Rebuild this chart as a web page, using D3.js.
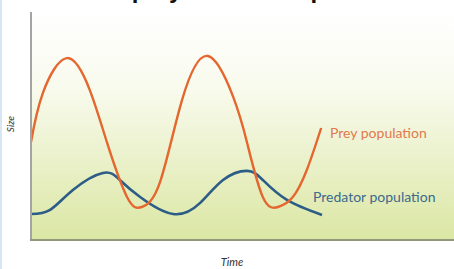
<!DOCTYPE html>
<html>
<head>
<meta charset="utf-8">
<script src="https://cdn.jsdelivr.net/npm/d3@7"></script>
<style>
  html, body { margin: 0; padding: 0; background: #fff; overflow: hidden; }
  svg { display: block; }
</style>
</head>
<body>
<div id="chart"></div>
<script>
// values: time (0-100) vs size (0-100)
const preyTime = [0, 2.8, 8.5, 13.9, 18.0, 22.7, 26.2, 30.5, 35.7, 41.8, 47.8, 51.1, 54.8, 58.4, 61.9, 65.2, 68.6];
const preySize = [42.7, 64.3, 79.7, 65.6, 42.3, 18.5, 14.1, 25.1, 61.2, 80.6, 62.6, 42.3, 18.5, 14.1, 18.5, 30.4, 48.9];

const predTime = [0, 4.5, 9.9, 17.0, 21.0, 25.8, 33.6, 40.0, 45.4, 51.1, 54.8, 60.5, 68.8];
const predSize = [11.0, 12.8, 21.6, 29.1, 26.0, 18.5, 11.0, 15.9, 26.0, 30.0, 26.0, 17.2, 10.6];

const seriesNames = ["Prey population", "Predator population"];
const axisNames = ["Time", "Size"];
const titleText = "Predator-prey relationship";

const width = 454, height = 269;
const margin = {top: 12, right: 0, bottom: 30, left: 31};

const svg = d3.select("#chart").append("svg")
    .attr("width", width)
    .attr("height", height);

const x = d3.scaleLinear().domain([0, 100]).range([margin.left, width - margin.right]);
const y = d3.scaleLinear().domain([0, 100]).range([height - margin.bottom, margin.top]);

// background gradient
const defs = svg.append("defs");
const grad = defs.append("linearGradient")
    .attr("id", "bg")
    .attr("x1", 0).attr("y1", 0).attr("x2", 0).attr("y2", 1);
grad.append("stop").attr("offset", "0%").attr("stop-color", "#ffffff");
grad.append("stop").attr("offset", "35%").attr("stop-color", "#f8faec");
grad.append("stop").attr("offset", "100%").attr("stop-color", "#dbe7a4");

svg.append("rect")
    .attr("x", x(0))
    .attr("y", y(100))
    .attr("width", x(100) - x(0))
    .attr("height", y(0) - y(100))
    .attr("fill", "url(#bg)");

// light blue strip on the left edge
svg.append("rect")
    .attr("x", 0).attr("y", 0)
    .attr("width", 2).attr("height", height)
    .attr("fill", "#d8e5f4");

// title, mostly cut off at the top (as in the source image)
svg.append("text")
    .attr("x", 25)
    .attr("y", -2)
    .attr("font-family", "Liberation Sans, Arial, sans-serif")
    .attr("font-weight", "bold")
    .attr("font-size", 24)
    .attr("fill", "#111")
    .text(titleText);

// curves
const line = d3.line()
    .x(d => x(d[0]))
    .y(d => y(d[1]))
    .curve(d3.curveNatural);

const prey = preyTime.map((t, i) => [t, preySize[i]]);
const pred = predTime.map((t, i) => [t, predSize[i]]);

svg.append("path")
    .datum(pred)
    .attr("d", line)
    .attr("fill", "none")
    .attr("stroke", "#2c5d87")
    .attr("stroke-width", 2.6);

svg.append("path")
    .datum(prey)
    .attr("d", line)
    .attr("fill", "none")
    .attr("stroke", "#e4672f")
    .attr("stroke-width", 2.4);

// axes
svg.append("line")
    .attr("x1", x(0)).attr("x2", x(0))
    .attr("y1", y(100)).attr("y2", y(0) + 1)
    .attr("stroke", "#a4a4a4")
    .attr("stroke-width", 2);

svg.append("line")
    .attr("x1", x(0) - 1).attr("x2", x(100))
    .attr("y1", y(0) + 1).attr("y2", y(0) + 1)
    .attr("stroke", "#8f9878")
    .attr("stroke-width", 2);

// series labels
svg.append("text")
    .attr("x", 330)
    .attr("y", 138)
    .attr("font-family", "Lato, sans-serif")
    .attr("font-size", 14)
    .attr("fill", "#e07a4c")
    .text(seriesNames[0]);

svg.append("text")
    .attr("x", 313)
    .attr("y", 202)
    .attr("font-family", "Lato, sans-serif")
    .attr("font-size", 14)
    .attr("fill", "#3a6a8e")
    .text(seriesNames[1]);

// axis titles
svg.append("text")
    .attr("x", 232)
    .attr("y", 266)
    .attr("text-anchor", "middle")
    .attr("font-family", "Lato, sans-serif")
    .attr("font-style", "italic")
    .attr("font-size", 11)
    .attr("fill", "#333")
    .text(axisNames[0]);

svg.append("text")
    .attr("transform", "translate(14,124) rotate(-90)")
    .attr("text-anchor", "middle")
    .attr("font-family", "Lato, sans-serif")
    .attr("font-style", "italic")
    .attr("font-size", 10)
    .attr("fill", "#333")
    .text(axisNames[1]);
</script>
</body>
</html>
